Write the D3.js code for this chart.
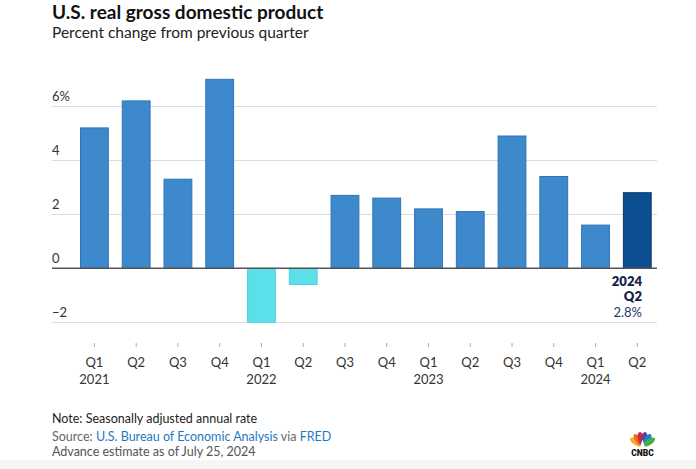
<!DOCTYPE html>
<html>
<head>
<meta charset="utf-8">
<script src="https://cdn.jsdelivr.net/npm/d3@7"></script>
<style>
  html, body { margin: 0; padding: 0; background: #fff; }
  svg { display: block; font-family: Lato, "Open Sans", sans-serif; }
</style>
</head>
<body>
<svg id="chart" width="696" height="469"></svg>
<script>
// ---- data ----
const quarters = ["Q1","Q2","Q3","Q4","Q1","Q2","Q3","Q4","Q1","Q2","Q3","Q4","Q1","Q2"];
const years    = ["2021","","","","2022","","","","2023","","","","2024",""];
const growth   = [5.2, 6.2, 3.3, 7.0, -2.0, -0.6, 2.7, 2.6, 2.2, 2.1, 4.9, 3.4, 1.6, 2.8];
const yTicks   = [-2, 0, 2, 4, 6];
const yTickLabels = ["\u22122", "0", "2", "4", "6%"];
const latestLabel = ["2024", "Q2", "2.8%"];

const svg = d3.select("#chart");
const ids = d3.range(growth.length);

const x = d3.scaleBand().domain(ids).range([80, 651.7]).paddingInner(0.31).paddingOuter(0);
const y = d3.scaleLinear().domain([-2, 7]).range([322.3, 79.3]);

// background strip at bottom
svg.append("rect").attr("x", 0).attr("y", 460).attr("width", 696).attr("height", 9).attr("fill", "#f6f6f6");

// title
svg.append("text").attr("x", 52).attr("y", 18.5)
  .attr("font-size", 19).attr("font-weight", 700).attr("fill", "#111")
  .text("U.S. real gross domestic product");
svg.append("text").attr("x", 52).attr("y", 38)
  .attr("font-size", 15.5).attr("fill", "#222")
  .text("Percent change from previous quarter");

// grid
const gridX0 = 52, gridX1 = 657;
const grid = svg.append("g");
grid.selectAll("line").data(yTicks.filter(d => d !== 0)).join("line")
  .attr("x1", gridX0).attr("x2", gridX1)
  .attr("y1", d => Math.round(y(d)) + 0.5).attr("y2", d => Math.round(y(d)) + 0.5)
  .attr("stroke", "#dcdcdc").attr("stroke-width", 1);
grid.selectAll("text").data(yTicks).join("text")
  .attr("x", gridX0).attr("y", d => y(d) - 5)
  .attr("font-size", 13).attr("fill", "#333")
  .text((d, i) => yTickLabels[i]);

// bars
const n = growth.length;
svg.append("g").selectAll("rect").data(ids).join("rect")
  .attr("x", i => x(i) + 0.5)
  .attr("width", x.bandwidth() - 1)
  .attr("y", i => Math.min(y(growth[i]), y(0)))
  .attr("height", i => Math.abs(y(growth[i]) - y(0)))
  .attr("fill", i => i === n - 1 ? "#0b4f91" : (growth[i] < 0 ? "#5be0ea" : "#3e89cc"))
  .attr("stroke", i => i === n - 1 ? "#08386d" : (growth[i] < 0 ? "#4fd0e2" : "#2c74b8"))
  .attr("stroke-width", 1);

// zero line
svg.append("line").attr("x1", gridX0).attr("x2", gridX1)
  .attr("y1", y(0)).attr("y2", y(0))
  .attr("stroke", "#555").attr("stroke-width", 1.5);

// x axis
const xAxis = d3.axisBottom(x).tickSize(4).tickFormat(i => quarters[i]).tickPadding(12);
const gx = svg.append("g").attr("transform", "translate(0,343)").call(xAxis);
gx.select(".domain").remove();
gx.selectAll(".tick line").attr("stroke", "#aaa");
gx.selectAll(".tick text").attr("font-size", 13).attr("fill", "#333")
  .attr("font-family", "Lato, 'Open Sans', sans-serif").attr("dy", null).attr("y", 23.5);
gx.selectAll(".tick").append("text")
  .attr("y", 40.5).attr("text-anchor", "middle")
  .attr("font-size", 13).attr("fill", "#333")
  .attr("font-family", "Lato, 'Open Sans', sans-serif")
  .text(i => years[i]);

// latest annotation
const ann = svg.append("g").attr("text-anchor", "end");
[285.7, 301.2, 317].forEach((yy, k) => {
  ann.append("text").attr("x", 642).attr("y", yy)
    .attr("font-size", 13)
    .attr("font-weight", k < 2 ? 800 : 400)
    .attr("fill", k < 2 ? "#15214d" : "#27366b")
    .text(latestLabel[k]);
});

// footer
svg.append("text").attr("x", 52).attr("y", 422.5)
  .attr("font-size", 12.5).attr("fill", "#222")
  .text("Note: Seasonally adjusted annual rate");
const src = svg.append("text").attr("x", 52).attr("y", 440.5)
  .attr("font-size", 12.5).attr("fill", "#666");
src.append("tspan").text("Source: ");
src.append("tspan").attr("fill", "#1f78c1").text("U.S. Bureau of Economic Analysis");
src.append("tspan").text(" via ");
src.append("tspan").attr("fill", "#1f78c1").text("FRED");
svg.append("text").attr("x", 52).attr("y", 456)
  .attr("font-size", 12.5).attr("fill", "#555")
  .text("Advance estimate as of July 25, 2024");

// CNBC peacock logo
const logo = svg.append("g").attr("transform", "translate(642.5,446.5)");
const feathers = ["#f6b21a", "#ef6b2a", "#d8263a", "#6a3d97", "#1d83c6", "#46ad4b"];
const angles = [-56, -34, -11, 11, 34, 56];
feathers.forEach((c, k) => {
  logo.append("ellipse").attr("cx", 0).attr("cy", -8).attr("rx", 3.1).attr("ry", 6.8)
    .attr("fill", c)
    .attr("transform", `rotate(${angles[k]})`);
});
logo.append("path").attr("d", "M-2.2,0 L0,-7 L2.2,0 Z").attr("fill", "#fff");
svg.append("text").attr("x", 642.5).attr("y", 455.8).attr("text-anchor", "middle")
  .attr("font-size", 8.5).attr("font-weight", 900).attr("fill", "#111")
  .attr("font-family", "Roboto, Arial, sans-serif")
  .text("CNBC");
</script>
</body>
</html>
